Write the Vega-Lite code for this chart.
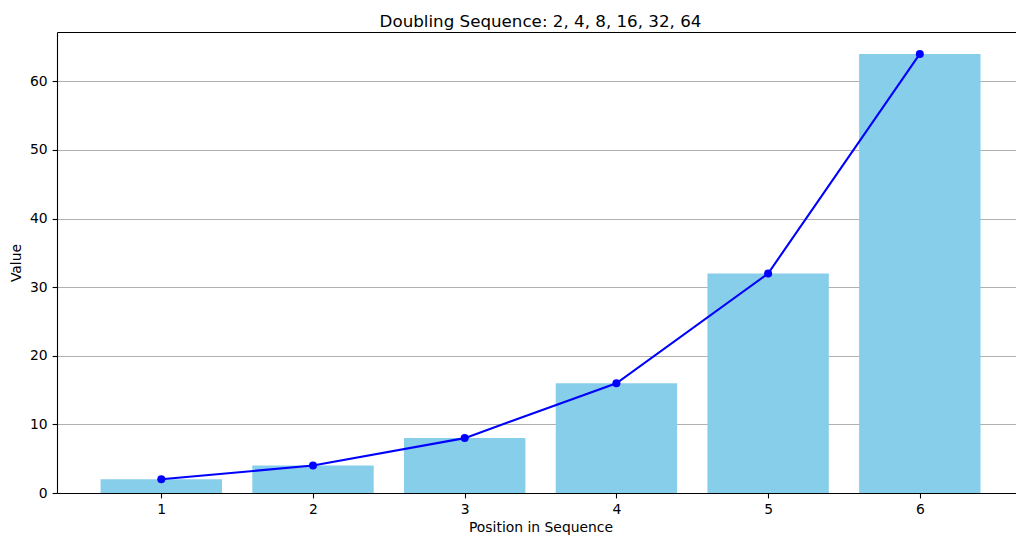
{
  "$schema": "https://vega.github.io/schema/vega-lite/v6.json",
  "width": 959,
  "height": 461,
  "autosize": {"type": "none"},
  "padding": {"left": 57, "top": 32, "right": 0, "bottom": 48},
  "background": "white",
  "config": {
    "view": {"stroke": null},
    "font": "DejaVu Sans",
    "axis": {
      "domainColor": "black",
      "domainWidth": 1.1,
      "tickColor": "black",
      "tickWidth": 1.1,
      "tickSize": 4.9,
      "labelPadding": 4.9,
      "labelFont": "DejaVu Sans",
      "labelFontSize": 13.9,
      "labelColor": "black",
      "titleFont": "DejaVu Sans",
      "titleFontSize": 13.9,
      "titleFontWeight": "normal",
      "titleColor": "black",
      "zindex": 1
    }
  },
  "title": {
    "text": "Doubling Sequence: 2, 4, 8, 16, 32, 64",
    "font": "DejaVu Sans",
    "fontSize": 16.7,
    "fontWeight": "normal",
    "color": "black",
    "anchor": "middle",
    "baseline": "bottom",
    "offset": -16,
    "dx": 4
  },
  "data": {
    "values": [
      {"position": 1, "value": 2},
      {"position": 2, "value": 4},
      {"position": 3, "value": 8},
      {"position": 4, "value": 16},
      {"position": 5, "value": 32},
      {"position": 6, "value": 64}
    ]
  },
  "resolve": {"axis": {"x": "independent"}},
  "layer": [
    {
      "mark": {"type": "bar", "color": "#87CEEB", "width": 121.4},
      "encoding": {
        "x": {
          "field": "position",
          "type": "quantitative",
          "scale": {"domain": [0.3125, 6.634], "nice": false, "zero": false, "padding": 0},
          "axis": {
            "values": [1, 2, 3, 4, 5, 6],
            "format": "d",
            "grid": false,
            "title": "Position in Sequence",
            "titlePadding": 4,
            "titleX": 483.5
          }
        },
        "y": {
          "field": "value",
          "type": "quantitative",
          "scale": {"domain": [0, 67.2], "nice": false, "padding": 0},
          "axis": {
            "values": [0, 10, 20, 30, 40, 50, 60],
            "grid": true,
            "gridColor": "#b0b0b0",
            "gridWidth": 1.1,
            "title": "Value",
            "titlePadding": 6
          }
        }
      }
    },
    {
      "mark": {
        "type": "line",
        "color": "blue",
        "strokeWidth": 2.1,
        "point": {"filled": true, "color": "blue", "size": 64, "opacity": 1}
      },
      "encoding": {
        "x": {
          "field": "position",
          "type": "quantitative",
          "axis": {
            "orient": "top",
            "labels": false,
            "ticks": false,
            "grid": false,
            "title": null,
            "domain": true
          }
        },
        "y": {"field": "value", "type": "quantitative"}
      }
    }
  ]
}
